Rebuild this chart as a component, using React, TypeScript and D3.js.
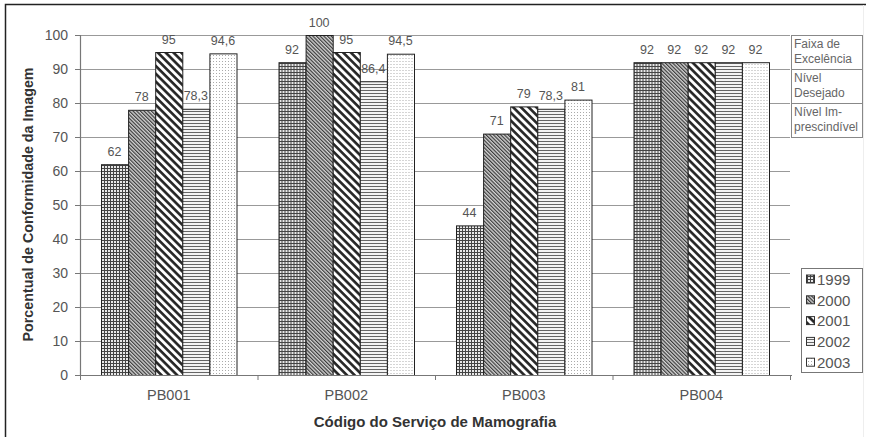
import React, { useEffect, useRef } from "react";
import * as d3 from "d3";

const categories = ["PB001", "PB002", "PB003", "PB004"];
const years = ["1999", "2000", "2001", "2002", "2003"];
const v1999 = [62, 92, 44, 92];
const v2000 = [78, 100, 71, 92];
const v2001 = [95, 95, 79, 92];
const v2002 = [78.3, 86.4, 78.3, 92];
const v2003 = [94.6, 94.5, 81, 92];
const yTicks = [0, 10, 20, 30, 40, 50, 60, 70, 80, 90, 100];
const bands = [
  { top: 100, bottom: 90, lines: ["Faixa de", "Excelência"] },
  { top: 90, bottom: 80, lines: ["Nível", "Desejado"] },
  { top: 80, bottom: 70, lines: ["Nível Im-", "prescindível"] },
];

const series = [v1999, v2000, v2001, v2002, v2003];
const font = "'Liberation Sans', Arial, sans-serif";

export default function App() {
  const ref = useRef(null);

  useEffect(() => {
    const svg = d3.select(ref.current);
    svg.selectAll("*").remove();

    const left = 80, right = 790, top = 35, bottom = 375;
    const y = d3.scaleLinear().domain([0, 100]).range([bottom, top]);
    const x0 = d3.scaleBand().domain(categories).range([left, right]);
    const x1 = d3.scaleBand().domain(years).range([21, x0.bandwidth() - 21]);

    // patterns
    const defs = svg.append("defs");
    const p1 = defs.append("pattern").attr("id", "p1999").attr("patternUnits", "userSpaceOnUse")
      .attr("width", 3).attr("height", 3);
    p1.append("rect").attr("width", 3).attr("height", 3).attr("fill", "#e8e8e8");
    p1.append("path").attr("d", "M0.5,0V3M0,0.5H3").attr("stroke", "#444").attr("stroke-width", 1);

    const p2 = defs.append("pattern").attr("id", "p2000").attr("patternUnits", "userSpaceOnUse")
      .attr("width", 2.6).attr("height", 2.6).attr("patternTransform", "rotate(-45)");
    p2.append("rect").attr("width", 2.6).attr("height", 2.6).attr("fill", "#d4d4d4");
    p2.append("line").attr("x1", 0.6).attr("x2", 0.6).attr("y1", 0).attr("y2", 2.6)
      .attr("stroke", "#3a3a3a").attr("stroke-width", 1.2);

    const p3 = defs.append("pattern").attr("id", "p2001").attr("patternUnits", "userSpaceOnUse")
      .attr("width", 5.5).attr("height", 5.5).attr("patternTransform", "rotate(-45)");
    p3.append("rect").attr("width", 5.5).attr("height", 5.5).attr("fill", "#fff");
    p3.append("line").attr("x1", 1.4).attr("x2", 1.4).attr("y1", 0).attr("y2", 5.5)
      .attr("stroke", "#222").attr("stroke-width", 2.6);

    const p4 = defs.append("pattern").attr("id", "p2002").attr("patternUnits", "userSpaceOnUse")
      .attr("width", 3).attr("height", 3);
    p4.append("rect").attr("width", 3).attr("height", 3).attr("fill", "#f4f4f4");
    p4.append("path").attr("d", "M0,0.5H3").attr("stroke", "#666").attr("stroke-width", 1);

    const p5 = defs.append("pattern").attr("id", "p2003").attr("patternUnits", "userSpaceOnUse")
      .attr("width", 3).attr("height", 3);
    p5.append("rect").attr("width", 3).attr("height", 3).attr("fill", "#fff");
    p5.append("rect").attr("x", 1).attr("y", 1).attr("width", 1).attr("height", 1).attr("fill", "#aaa");

    // outer frame
    svg.append("path").attr("d", "M5.5,437V4.5H866").attr("fill", "none").attr("stroke", "#222").attr("stroke-width", 1.5);
    svg.append("line").attr("x1", 863.5).attr("x2", 863.5).attr("y1", 5).attr("y2", 437).attr("stroke", "#eee");

    // gridlines
    svg.append("g").selectAll("line").data(yTicks.filter((d) => d > 0)).join("line")
      .attr("x1", left).attr("x2", right).attr("y1", (d) => y(d) + 0.5).attr("y2", (d) => y(d) + 0.5)
      .attr("stroke", "#999").attr("stroke-width", 1.2);

    // y axis
    const ya = svg.append("g");
    ya.append("line").attr("x1", left + 0.5).attr("x2", left + 0.5).attr("y1", top).attr("y2", bottom + 1)
      .attr("stroke", "#777").attr("stroke-width", 1.2);
    ya.selectAll("line.t").data(yTicks).join("line").attr("class", "t")
      .attr("x1", left - 5).attr("x2", left).attr("y1", (d) => y(d) + 0.5).attr("y2", (d) => y(d) + 0.5)
      .attr("stroke", "#777");
    ya.selectAll("text").data(yTicks).join("text")
      .attr("x", 68).attr("y", (d) => y(d)).attr("dy", "0.35em").attr("text-anchor", "end")
      .attr("font-family", font).attr("font-size", 14).attr("fill", "#555").text((d) => d);

    // bars
    const fmt = (v) => String(v).replace(".", ",");
    const groups = svg.append("g").selectAll("g").data(categories).join("g")
      .attr("transform", (c) => `translate(${x0(c)},0)`);
    groups.each(function (c, ci) {
      const g = d3.select(this);
      years.forEach((yr, si) => {
        const v = series[si][ci];
        g.append("rect").attr("x", x1(yr) + 0.5).attr("y", y(v) + 0.5)
          .attr("width", x1.bandwidth()).attr("height", y(0) - y(v))
          .attr("fill", `url(#p${yr})`).attr("stroke", "#222").attr("stroke-width", 1);
        g.append("text").attr("x", x1(yr) + x1.bandwidth() / 2).attr("y", y(v) - 8.5)
          .attr("text-anchor", "middle").attr("font-family", font).attr("font-size", 12.5)
          .attr("fill", "#555").text(fmt(v));
      });
    });

    // x axis
    const xa = svg.append("g");
    xa.append("line").attr("x1", left).attr("x2", right + 2).attr("y1", bottom + 0.5).attr("y2", bottom + 0.5)
      .attr("stroke", "#777").attr("stroke-width", 1.2);
    const bounds = categories.map((c) => x0(c)).concat([right]);
    xa.selectAll("line.t").data(bounds).join("line").attr("class", "t")
      .attr("x1", (d) => d + 0.5).attr("x2", (d) => d + 0.5).attr("y1", bottom).attr("y2", bottom + 5)
      .attr("stroke", "#777");
    xa.selectAll("text").data(categories).join("text")
      .attr("x", (c) => x0(c) + x0.bandwidth() / 2).attr("y", 400).attr("text-anchor", "middle")
      .attr("font-family", font).attr("font-size", 14.5).attr("fill", "#555").text((c) => c);

    // titles
    svg.append("text").attr("x", (left + right) / 2).attr("y", 427).attr("text-anchor", "middle")
      .attr("font-family", font).attr("font-size", 15).attr("font-weight", "bold").attr("fill", "#333")
      .text("Código do Serviço de Mamografia");
    svg.append("text").attr("transform", `translate(33,204.5) rotate(-90)`)
      .attr("text-anchor", "middle").attr("font-family", font).attr("font-size", 14.3)
      .attr("font-weight", "bold").attr("fill", "#333").text("Porcentual de Conformidade da Imagem");

    // band boxes on the right
    const bx = svg.append("g");
    bands.forEach((b) => {
      bx.append("rect").attr("x", 791.5).attr("y", y(b.top) + 0.5).attr("width", 71)
        .attr("height", y(b.bottom) - y(b.top)).attr("fill", "#fff").attr("stroke", "#888");
      b.lines.forEach((t, i) => {
        bx.append("text").attr("x", 794).attr("y", y(b.top) + 12.5 + i * 15)
          .attr("font-family", font).attr("font-size", 12).attr("fill", "#666").text(t);
      });
    });

    // legend
    const lg = svg.append("g");
    lg.append("rect").attr("x", 801.5).attr("y", 268.5).attr("width", 61).attr("height", 104)
      .attr("fill", "#fff").attr("stroke", "#777");
    years.forEach((yr, i) => {
      const cy = 279.5 + i * 20.8;
      lg.append("rect").attr("x", 806.5).attr("y", cy - 4.5).attr("width", 8).attr("height", 8)
        .attr("fill", `url(#p${yr})`).attr("stroke", "#333");
      lg.append("text").attr("x", 817).attr("y", cy).attr("dy", "0.35em")
        .attr("font-family", font).attr("font-size", 15).attr("fill", "#555").text(yr);
    });
  }, []);

  return (
    <div style={{ position: "absolute", left: 0, top: 0 }}>
      <svg ref={ref} width={871} height={437} style={{ display: "block", background: "#fff" }} />
    </div>
  );
}
